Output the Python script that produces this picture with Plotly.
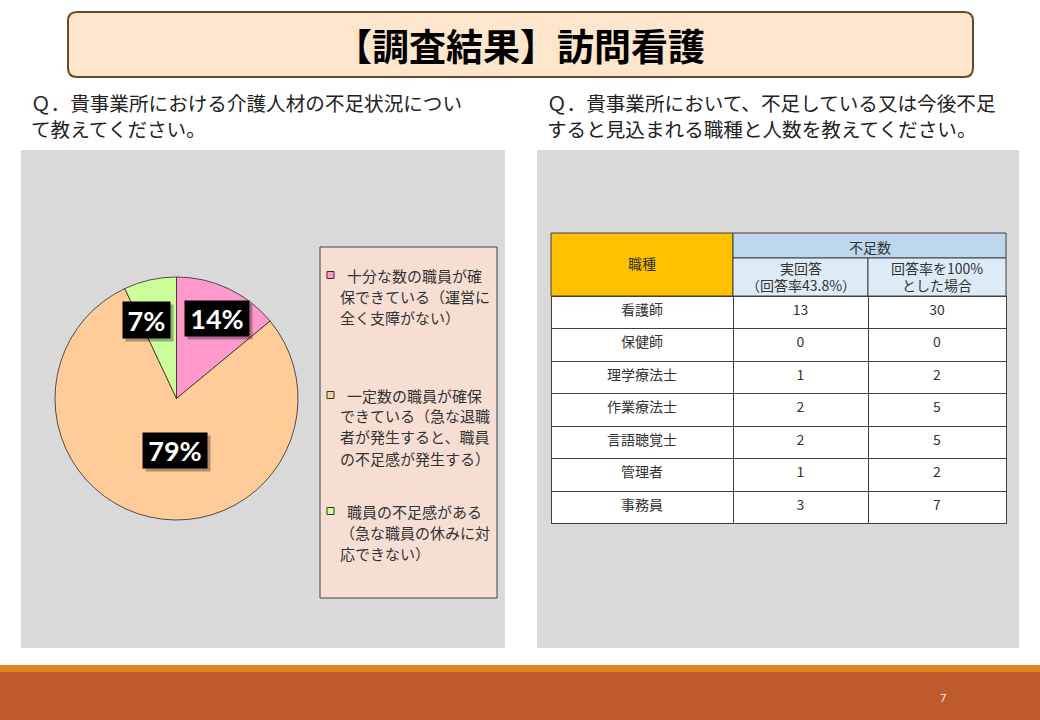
import plotly.graph_objects as go

# ---------------- data ----------------
TITLE = "【調査結果】訪問看護"
Q_LEFT_LINES = ["Ｑ．貴事業所における介護人材の不足状況につい", "て教えてください。"]
Q_RIGHT_LINES = ["Ｑ．貴事業所において、不足している又は今後不足", "すると見込まれる職種と人数を教えてください。"]

PIE_CATEGORIES = [
    "十分な数の職員が確\n保できている（運営に\n全く支障がない）",
    "一定数の職員が確保\nできている（急な退職\n者が発生すると、職員\nの不足感が発生する）",
    "職員の不足感がある\n（急な職員の休みに対\n応できない）",
]
PIE_VALUES = [14, 79, 7]

JOB_TYPES = ["看護師", "保健師", "理学療法士", "作業療法士", "言語聴覚士", "管理者", "事務員"]
SHORTAGE_ACTUAL = [13, 0, 1, 2, 2, 1, 3]
SHORTAGE_FULL = [30, 0, 2, 5, 5, 2, 7]
HEAD_JOB = "職種"
HEAD_GROUP = "不足数"
HEAD_SUB = [["実回答", "（回答率43.8%）"], ["回答率を100%", "とした場合"]]
PAGE_NUMBER = "7"

# ---------------- styles / layout ----------------
W, H = 1040, 720
PIE_COLORS = ["#FF99CC", "#FFCC99", "#CCFF99"]
JP = "Noto Sans CJK JP"
PANEL_GRAY = "#D9D9D9"
GRID = "#404040"


def X(px):
    return px / W


def Y(py):
    return 1 - py / H


def rect(x0, y0, x1, y1, fill, line_color=None, line_width=0, layer="below"):
    return dict(type="rect", xref="paper", yref="paper",
                x0=X(x0), x1=X(x1), y0=Y(y1), y1=Y(y0),
                fillcolor=fill, layer=layer,
                line=dict(color=line_color or fill, width=line_width))


def round_rect_path(x0, y0, x1, y1, r):
    xa, xb, ya, yb = X(x0), X(x1), Y(y0), Y(y1)  # ya top, yb bottom
    rx, ry = r / W, r / H
    return (f"M {xa+rx},{ya} L {xb-rx},{ya} Q {xb},{ya} {xb},{ya-ry} "
            f"L {xb},{yb+ry} Q {xb},{yb} {xb-rx},{yb} L {xa+rx},{yb} "
            f"Q {xa},{yb} {xa},{yb+ry} L {xa},{ya-ry} Q {xa},{ya} {xa+rx},{ya} Z")


def label(text, cx, cy, size=14, color="#333333", family=JP, **kw):
    return dict(text=text, x=X(cx), y=Y(cy), xanchor="center", yanchor="middle",
                showarrow=False, font=dict(family=family, size=size, color=color), **kw)


fig = go.Figure()

# Pie
PIE_BOX = (55, 277, 298, 520)
fig.add_trace(go.Pie(
    labels=[c.replace("\n", "") for c in PIE_CATEGORIES],
    values=PIE_VALUES,
    sort=False, direction="clockwise", rotation=0,
    marker=dict(colors=PIE_COLORS, line=dict(color="#2a2a2a", width=0.8)),
    textinfo="none", showlegend=False,
    domain=dict(x=[X(PIE_BOX[0]), X(PIE_BOX[2])], y=[Y(PIE_BOX[3]), Y(PIE_BOX[1])]),
))

# Table body (first data row rendered as the table's header row so no empty header band appears)
cell_font = dict(family=JP, size=14, color="#333333")
tline = dict(color=GRID, width=1)
TX0, TC1, TC2, TX1 = 551, 733, 868, 1006
TY0, TY1, TY2, TY3 = 233, 258, 296, 524
ROW_H = 32.5
cols = [JOB_TYPES, SHORTAGE_ACTUAL, SHORTAGE_FULL]
fig.add_trace(go.Table(
    domain=dict(x=[X(TX0), X(TX1)], y=[Y(TY3 + 1), Y(TY2)]),
    columnwidth=[TC1 - TX0, TC2 - TC1, TX1 - TC2],
    header=dict(values=[c[0] for c in cols], height=ROW_H,
                fill_color="white", line=tline, font=cell_font, align="center"),
    cells=dict(values=[c[1:] for c in cols], height=ROW_H,
               fill_color="white", line=tline, font=cell_font, align="center"),
))

shapes = [
    rect(21, 150, 505, 648, PANEL_GRAY),
    rect(537, 150, 1019, 648, PANEL_GRAY),
    dict(type="path", xref="paper", yref="paper", path=round_rect_path(68, 12, 973, 77, 9),
         fillcolor="#FDE6CB", line=dict(color="#6B4724", width=2), layer="below"),
    rect(0, 665, 1040, 672, "#E0851A"),
    rect(0, 672, 1040, 720, "#BE5A2C"),
    rect(320, 247, 497, 598, "#F6DED3", "#404040", 1),
    # table header cells (merged header)
    rect(TX0, TY0, TC1, TY2, "#FFC000", GRID, 1),
    rect(TC1, TY0, TX1, TY1, "#BDD7EE", GRID, 1),
    rect(TC1, TY1, TC2, TY2, "#DDEBF7", GRID, 1),
    rect(TC2, TY1, TX1, TY2, "#DDEBF7", GRID, 1),
]

annotations = [
    label(f"<b>{TITLE}</b>", 520, 45, size=37, color="#000000"),
    label(PAGE_NUMBER, 943, 697, size=11, color="#FFFFFF", family="Open Sans"),
    label(HEAD_JOB, (TX0 + TC1) / 2, 263),
    label(HEAD_GROUP, (TC1 + TX1) / 2, (TY0 + TY1) / 2 + 1),
]
for (l1, l2), (ca, cb) in zip(HEAD_SUB, [(TC1, TC2), (TC2, TX1)]):
    annotations.append(label(l1, (ca + cb) / 2, 268))
    annotations.append(label(l2, (ca + cb) / 2, 285))

for lines, x0 in ((Q_LEFT_LINES, 29), (Q_RIGHT_LINES, 545)):
    for i, t in enumerate(lines):
        annotations.append(dict(text=t, x=X(x0), y=Y(103 + 25 * i), xanchor="left", yanchor="middle",
                                align="left", showarrow=False,
                                font=dict(family=JP, size=19.6, color="#222222")))

# percentage labels (black boxes)
LABEL_CENTERS = [(217, 318), (175, 450), (146.5, 320)]
LABEL_SIZES = [(64, 35), (64, 35), (47, 36)]
for v, (cx, cy), (bw, bh) in zip(PIE_VALUES, LABEL_CENTERS, LABEL_SIZES):
    annotations.append(dict(text="", x=X(cx + 3), y=Y(cy + 3), xanchor="center", yanchor="middle",
                            width=bw, height=bh, bgcolor="rgba(0,0,0,0.30)", showarrow=False,
                            borderpad=0, font=dict(size=10)))
    annotations.append(dict(text=f"<b>{v}%</b>", x=X(cx), y=Y(cy), xanchor="center", yanchor="middle",
                            width=bw, height=bh, bgcolor="#000000", showarrow=False, borderpad=0,
                            align="center", valign="middle",
                            font=dict(family="Lato", size=27, color="#FFFFFF")))

# custom legend
LEG_MARK_X = 330.5
LEG_FIRST_X = 345
LEG_TEXT_X = 338
LEG_START_Y = [275, 395, 511]
LEG_LINE_STEP = 21
for cat, color, y0 in zip(PIE_CATEGORIES, PIE_COLORS, LEG_START_Y):
    shapes.append(dict(type="rect", xref="paper", yref="paper",
                       x0=X(LEG_MARK_X - 3.5), x1=X(LEG_MARK_X + 3.5), y0=Y(y0 + 3.5), y1=Y(y0 - 3.5),
                       fillcolor=color, line=dict(color="#333333", width=1), layer="above"))
    for i, line in enumerate(cat.split("\n")):
        annotations.append(dict(text=line, x=X(LEG_FIRST_X if i == 0 else LEG_TEXT_X),
                                y=Y(y0 + i * LEG_LINE_STEP), xanchor="left", yanchor="middle",
                                showarrow=False, font=dict(family=JP, size=15, color="#333333")))

fig.update_layout(
    width=W, height=H, autosize=False,
    margin=dict(l=0, r=0, t=0, b=0),
    paper_bgcolor="#FFFFFF", plot_bgcolor="#FFFFFF",
    shapes=shapes, annotations=annotations,
    showlegend=False,
)

fig.write_html("out.html")
